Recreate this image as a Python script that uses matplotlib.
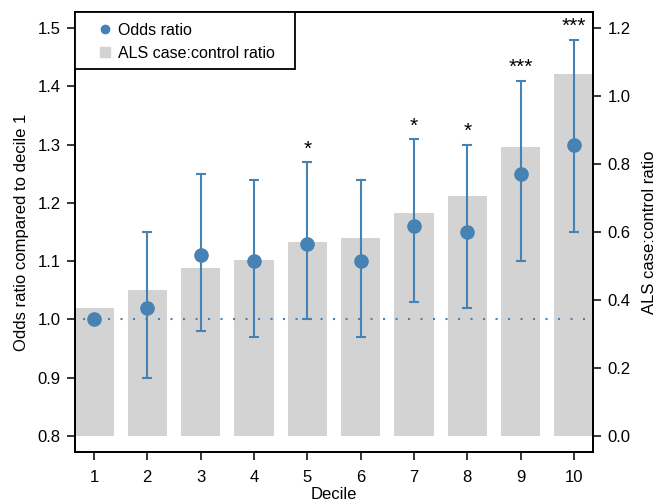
import numpy as np
import matplotlib.pyplot as plt
from matplotlib.lines import Line2D
from matplotlib.patches import Rectangle

plt.rcParams['font.family'] = ['Liberation Sans', 'DejaVu Sans']

# Data
deciles = np.arange(1, 11)
odds = [1.00, 1.02, 1.11, 1.10, 1.13, 1.10, 1.16, 1.15, 1.25, 1.30]
ci_low = [1.00, 0.90, 0.98, 0.97, 1.00, 0.97, 1.03, 1.02, 1.10, 1.15]
ci_high = [1.00, 1.15, 1.25, 1.24, 1.27, 1.24, 1.31, 1.30, 1.41, 1.48]
case_ratio = [0.378, 0.429, 0.493, 0.518, 0.571, 0.582, 0.657, 0.706, 0.849, 1.065]
stars = ['', '', '', '', '*', '', '*', '*', '***', '***']

blue = '#4682B4'
grey = '#D3D3D3'
fs = 12

fig = plt.figure(figsize=(6.56, 5.04), dpi=100)
ax = fig.add_axes([0.1143, 0.1032, 0.7897, 0.8728])
ax2 = ax.twinx()

# bars on the right axis, drawn behind
ax2.bar(deciles, case_ratio, width=0.74, color=grey, zorder=1)
ax2.set_ylim(-0.047, 1.247)
ax2.set_yticks([0.0, 0.2, 0.4, 0.6, 0.8, 1.0, 1.2])
ax2.set_ylabel('ALS case:control ratio', fontsize=fs, labelpad=8)

ax.set_zorder(ax2.get_zorder() + 1)
ax.patch.set_visible(False)

# odds ratio with CI
odds_a = np.array(odds)
lo = odds_a - np.array(ci_low)
hi = np.array(ci_high) - odds_a
ax.hlines(1.0, 0.8, 10.2, colors=blue, linestyles=(0, (1, 5)), linewidth=1.5, zorder=2)
ax.errorbar(deciles[1:], odds_a[1:], yerr=[lo[1:], hi[1:]], fmt='none',
            ecolor=blue, elinewidth=1.5, capsize=3.6, capthick=1.5, zorder=3)
ax.plot(deciles, odds, 'o', color=blue, markersize=9.5, zorder=4)

for d, h, s in zip(deciles, ci_high, stars):
    if s:
        ax.text(d, h + 0.006, s, ha='center', va='bottom', fontsize=15)

ax.set_xlim(0.644, 10.356)
ax.set_ylim(0.7726, 1.5275)
ax.set_xticks(deciles)
ax.set_yticks([0.8, 0.9, 1.0, 1.1, 1.2, 1.3, 1.4, 1.5])
ax.set_yticklabels(['0.8', '0.9', '1.0', '1.1', '1.2', '1.3', '1.4', '1.5'])
ax.set_xlabel('Decile', fontsize=fs, labelpad=1.5)
ax.set_ylabel('Odds ratio compared to decile 1', fontsize=fs, labelpad=6)

for a in (ax, ax2):
    for sp in a.spines.values():
        sp.set_linewidth(1.3)
    a.tick_params(direction='out', length=6, width=1.1, labelsize=fs)
    a.tick_params(axis='y', pad=4.5)
ax.tick_params(axis='x', pad=7)

# legend box drawn by hand to get the wide frame of the original
ax.add_patch(Rectangle((0, 1 - 0.1295), 0.4247, 0.1295, transform=ax.transAxes,
                       facecolor='white', edgecolor='black', linewidth=1.3,
                       zorder=5, clip_on=False))
handles = [Line2D([], [], marker='o', color=blue, linestyle='none', markersize=6),
           Line2D([], [], marker='s', color=grey, linestyle='none', markersize=7)]
leg = ax.legend(handles, ['Odds ratio', 'ALS case:control ratio'], loc='upper left',
                bbox_to_anchor=(0.029, 0.996), borderaxespad=0, frameon=False,
                fontsize=11.5, handlelength=0.8, handletextpad=0.4,
                borderpad=0.55, labelspacing=0.5)
leg.set_zorder(6)

fig.savefig('out.png', dpi=100)
